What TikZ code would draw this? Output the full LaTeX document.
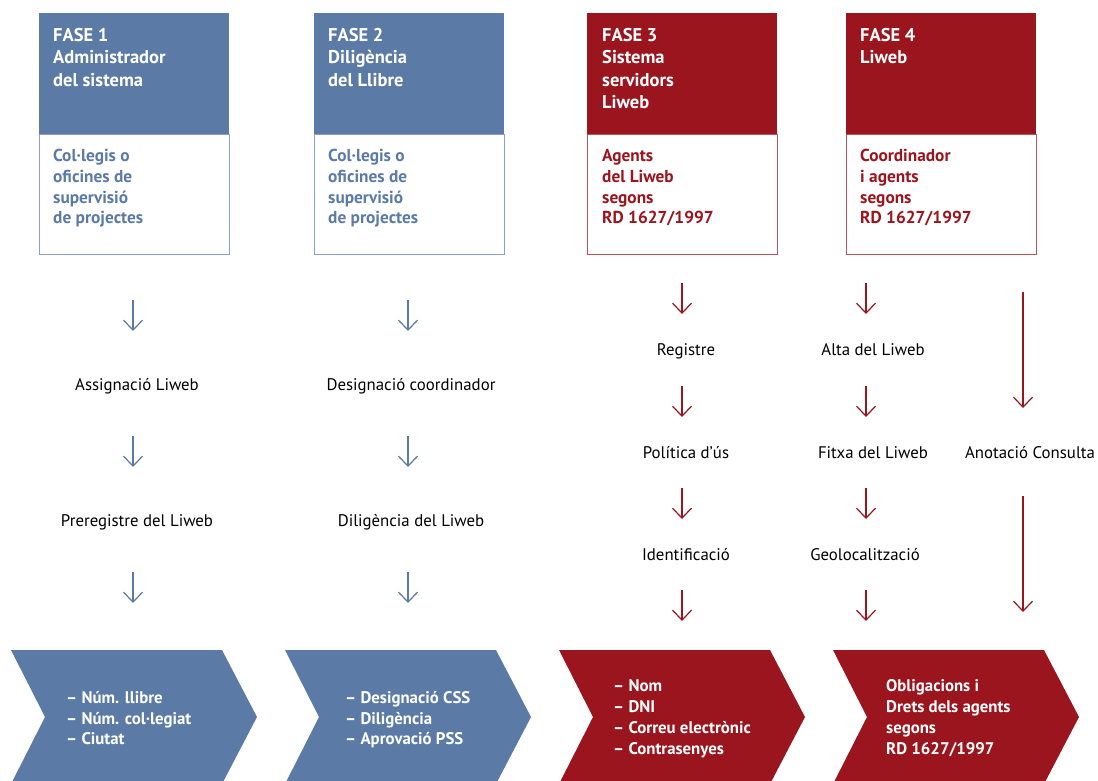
\documentclass[tikz,border=0pt]{standalone}
\usepackage{fontspec}
\setmainfont{PT Sans}
\usetikzlibrary{arrows.meta}
\definecolor{fblue}{HTML}{5B7BA6}
\definecolor{fred}{HTML}{9A151D}
\definecolor{fblueline}{HTML}{8AA0C4}
\definecolor{fredline}{HTML}{B8545B}
\begin{document}
\begin{tikzpicture}[x=1pt,y=-1pt,
  headbox/.style={anchor=north west,minimum width=190pt,minimum height=121pt,inner sep=0pt,draw=none},
  lowbox/.style={anchor=north west,minimum width=190pt,minimum height=120pt,inner sep=0pt,line width=1.1pt,fill=white},
  headtxt/.style={anchor=base west,align=left,inner sep=0pt,text=white,font=\fontsize{18.5}{22.6}\selectfont\bfseries},
  lowtxt/.style={anchor=base west,align=left,inner sep=0pt,font=\fontsize{17.3}{20.7}\selectfont\bfseries},
  lbl/.style={anchor=base,inner sep=0pt,font=\fontsize{16.8}{18}\selectfont},
  chevtxt/.style={anchor=base west,align=left,inner sep=0pt,text=white,font=\fontsize{16.8}{20.8}\selectfont\bfseries},
  arr/.style={line width=1.2pt,-{Straight Barb[length=10pt,width=19pt,line width=1.2pt]}},
  barr/.style={arr,draw=fblue},
  rarr/.style={arr,draw=fred}
]
\useasboundingbox (0,0) rectangle (1098,780);

% ---- header boxes
\node[headbox,fill=fblue] (h1) at (39,13) {};
\node[lowbox,draw=fblueline] (l1) at (39,134) {};
\node[headbox,fill=fblue] (h2) at (314,13) {};
\node[lowbox,draw=fblueline] (l2) at (314,134) {};
\node[headbox,fill=fred] (h3) at (587,13) {};
\node[lowbox,draw=fredline] (l3) at (587,134) {};
\node[headbox,fill=fred] (h4) at (846,13) {};
\node[lowbox,draw=fredline] (l4) at (846,134) {};

% (anchor base = baseline of the last line)
\node[headtxt] (h1t) at (53,86.3) {FASE 1\\Administrador\\del sistema};
\node[headtxt] (h2t) at (328,86.3) {FASE 2\\Diligència\\del Llibre};
\node[headtxt] (h3t) at (602,108.9) {FASE 3\\Sistema\\servidors\\Liweb};
\node[headtxt] (h4t) at (860,63.7) {FASE 4\\Liweb};

\node[lowtxt,text=fblue] (l1t) at (53,223.7) {Col·legis o\\oficines de\\supervisió\\de projectes};
\node[lowtxt,text=fblue] (l2t) at (328,223.7) {Col·legis o\\oficines de\\supervisió\\de projectes};
\node[lowtxt,text=fred] (l3t) at (602,223.7) {Agents\\del Liweb\\segons\\RD 1627/1997};
\node[lowtxt,text=fred] (l4t) at (860,223.7) {Coordinador\\i agents\\segons\\RD 1627/1997};

% ---- step labels
\node[lbl] (a1) at (137,390.8) {Assignació Liweb};
\node[lbl] (a2) at (137,526.8) {Preregistre del Liweb};
\node[lbl] (b1) at (411,390.8) {Designació coordinador};
\node[lbl] (b2) at (411,526.8) {Diligència del Liweb};
\node[lbl] (c1) at (686,355.8) {Registre};
\node[lbl] (c2) at (686,458.8) {Política d’ús};
\node[lbl] (c3) at (686,560.8) {Identificació};
\node[lbl] (d1) at (873,355.8) {Alta del Liweb};
\node[lbl] (d2) at (873,458.8) {Fitxa del Liweb};
\node[lbl] (d3) at (865,560.8) {Geolocalització};
\node[lbl] (e1) at (1030,458.8) {Anotació Consulta};

% ---- chevrons
\fill[fblue] (11,650) -- (222,650) -- (257,717) -- (222,784) -- (11,784) -- (45,717) -- cycle;
\fill[fblue] (285,650) -- (496,650) -- (531,717) -- (496,784) -- (285,784) -- (319,717) -- cycle;
\fill[fred] (559,650) -- (770,650) -- (805,717) -- (770,784) -- (559,784) -- (593,717) -- cycle;
\fill[fred] (833,650) -- (1044,650) -- (1079,717) -- (1044,784) -- (833,784) -- (867,717) -- cycle;

\node[chevtxt] (k1) at (66,744.8) {– Núm. llibre\\– Núm. col·legiat\\– Ciutat};
\node[chevtxt] (k2) at (345,744.8) {– Designació CSS\\– Diligència\\– Aprovació PSS};
\node[chevtxt] (k3) at (613,754.2) {– Nom\\– DNI\\– Correu electrònic\\– Contrasenyes};
\node[chevtxt] (k4) at (886,754.2) {Obligacions i\\Drets dels agents\\segons\\RD 1627/1997};

% ---- arrow end points
\coordinate (p1a) at (133,300); \coordinate (p1b) at (133,331);
\coordinate (p1c) at (133,436); \coordinate (p1d) at (133,467);
\coordinate (p1e) at (133,572); \coordinate (p1f) at (133,603);
\coordinate (p2a) at (408,300); \coordinate (p2b) at (408,331);
\coordinate (p2c) at (408,436); \coordinate (p2d) at (408,467);
\coordinate (p2e) at (408,572); \coordinate (p2f) at (408,603);
\coordinate (p3a) at (682,283); \coordinate (p3b) at (682,314);
\coordinate (p3c) at (682,386); \coordinate (p3d) at (682,417);
\coordinate (p3e) at (682,488); \coordinate (p3f) at (682,519);
\coordinate (p3g) at (682,590); \coordinate (p3h) at (682,621);
\coordinate (p4a) at (866,283); \coordinate (p4b) at (866,314);
\coordinate (p4c) at (866,386); \coordinate (p4d) at (866,417);
\coordinate (p4e) at (866,488); \coordinate (p4f) at (866,519);
\coordinate (p4g) at (866,590); \coordinate (p4h) at (866,621);
\coordinate (p5a) at (1023,292); \coordinate (p5b) at (1023,408);
\coordinate (p5c) at (1023,496); \coordinate (p5d) at (1023,612);

\draw[barr] (p1a) -- (p1b); \draw[barr] (p1c) -- (p1d); \draw[barr] (p1e) -- (p1f);
\draw[barr] (p2a) -- (p2b); \draw[barr] (p2c) -- (p2d); \draw[barr] (p2e) -- (p2f);
\draw[rarr] (p3a) -- (p3b); \draw[rarr] (p3c) -- (p3d); \draw[rarr] (p3e) -- (p3f); \draw[rarr] (p3g) -- (p3h);
\draw[rarr] (p4a) -- (p4b); \draw[rarr] (p4c) -- (p4d); \draw[rarr] (p4e) -- (p4f); \draw[rarr] (p4g) -- (p4h);
\draw[rarr] (p5a) -- (p5b); \draw[rarr] (p5c) -- (p5d);
\end{tikzpicture}
\end{document}
